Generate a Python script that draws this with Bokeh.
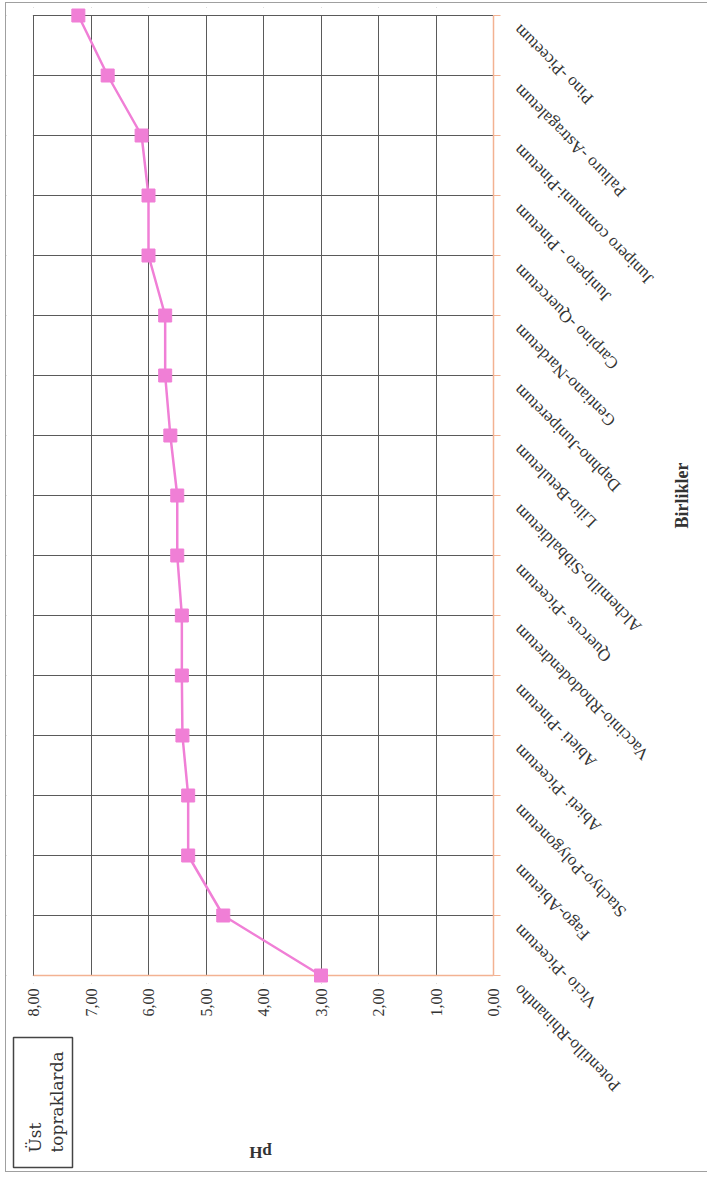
import math
from bokeh.plotting import figure
from bokeh.layouts import row, column
from bokeh.models import Range1d, FixedTicker, ColumnDataSource
from bokeh.core.properties import value
from bokeh.embed import file_html
from bokeh.resources import INLINE

# Plant associations (bottom -> top in the rotated page)
categories = [
    "Potentillo-Rhinantho", "Vicio -Piceetum", "Fago-Abietum", "Stachyo-Polygonetum",
    "Abieti -Piceetum", "Abieti -Pinetum", "Vaccinio-Rhododendretum", "Quercus -Piceetum",
    "Alchemillo-Sibbaldietum", "Lilio-Betuletum", "Daphno-Juniperetum", "Gentiano-Nardetum",
    "Carpino -Quercetum", "Junipero - Pinetum", "Junipero communi-Pinetum",
    "Paliuro -Astragaletum", "Pino -Piceetum",
]
ph_values = [3.00, 4.70, 5.31, 5.31, 5.41, 5.42, 5.42, 5.50, 5.50, 5.62, 5.71, 5.71,
             6.00, 6.00, 6.12, 6.71, 7.22]
ph_ticks = [0, 1, 2, 3, 4, 5, 6, 7, 8]
ph_tick_labels = ["0,00", "1,00", "2,00", "3,00", "4,00", "5,00", "6,00", "7,00", "8,00"]
series_name = "Üst\ntopraklarda"
x_title = "pH"
y_title = "Birlikler"

idx = list(range(len(categories)))
src = ColumnDataSource(dict(ph=ph_values, idx=idx, name=categories))

SERIF = "Liberation Serif"
PINK = "#f07fd6"
ORANGE = "#f3b292"
GRID = "#5a5a5a"
TXT = "#333333"

COMMON = dict(output_backend="svg", toolbar_location=None,
              background_fill_color="white", border_fill_color="white")

# ---------------- main chart ----------------
GRID_W, GRID_H = 460, 960        # pixel size of the gridded area
LEFT_PAD = 27                    # blank strip left of the 8,00 gridline
V_PAD = 8                        # room so the end markers are not cut
px_per_ph = GRID_W / (max(ph_ticks) - min(ph_ticks))
scale = GRID_H / (idx[-1] - idx[0])
P_FW = GRID_W + LEFT_PAD
P_FH = GRID_H + 2 * V_PAD
x_left = max(ph_ticks) + LEFT_PAD / px_per_ph
y_lo = idx[0] - V_PAD / scale
y_hi = idx[-1] + V_PAD / scale

p = figure(frame_width=P_FW, frame_height=P_FH,
           x_range=Range1d(x_left, min(ph_ticks)),
           y_range=Range1d(y_lo, y_hi),
           y_axis_location="right",
           min_border_left=0, min_border_top=12 - V_PAD, min_border_right=12,
           min_border_bottom=0, outline_line_color=None, **COMMON)

xa = p.xaxis[0]
xa.ticker = FixedTicker(ticks=ph_ticks)
xa.major_label_overrides = dict(zip(ph_ticks, ph_tick_labels))
xa.major_label_orientation = math.pi / 2
xa.major_label_text_font = SERIF
xa.major_label_text_font_size = "16px"
xa.major_label_text_color = TXT
xa.major_label_standoff = 13 - V_PAD
xa.major_tick_out = 0
xa.major_tick_in = 0
xa.minor_tick_out = 0
xa.minor_tick_in = 0
xa.axis_line_color = None

ya = p.yaxis[0]
ya.ticker = FixedTicker(ticks=[], minor_ticks=idx)
ya.bounds = (idx[0], idx[-1])
ya.major_tick_out = 0
ya.major_tick_in = 0
ya.minor_tick_out = 7
ya.minor_tick_in = 0
ya.minor_tick_line_color = ORANGE
ya.minor_tick_line_width = 1
ya.axis_line_color = ORANGE
ya.axis_line_width = 1.5

p.xgrid.ticker = FixedTicker(ticks=ph_ticks)
p.ygrid.ticker = FixedTicker(ticks=idx)
p.xgrid.grid_line_color = GRID
p.ygrid.grid_line_color = GRID

# blank margins around the gridded area (drawn above the grid, below the data)
eps_x = 0.6 / px_per_ph
eps_y = 0.6 / scale
p.quad(left=[x_left, x_left, x_left],
       right=[max(ph_ticks) + eps_x, min(ph_ticks), min(ph_ticks)],
       bottom=[y_lo, idx[-1] + eps_y, y_lo],
       top=[y_hi, y_hi, idx[0] - eps_y],
       fill_color="white", line_color=None)

# orange category-axis baseline at the first category
p.segment(x0=[min(ph_ticks)], y0=[idx[0]], x1=[max(ph_ticks)], y1=[idx[0]],
          line_color=ORANGE, line_width=1.5)

p.line("ph", "idx", source=src, line_color=PINK, line_width=2.5)
p.scatter("ph", "idx", source=src, marker="square", size=13,
          fill_color=PINK, line_color=PINK)

P_W = P_FW + 12
TOTAL_W, TOTAL_H = 701, 1166

# ---------------- category label panel (same vertical scale) ----------------
Q_TOP = 12 - V_PAD
Q_FW, Q_FH = TOTAL_W - P_W, TOTAL_H - Q_TOP
q = figure(frame_width=Q_FW, frame_height=Q_FH,
           x_range=Range1d(0, Q_FW),
           y_range=Range1d(y_hi - Q_FH / scale, y_hi),
           x_axis_location=None, y_axis_location=None,
           min_border_left=0, min_border_top=Q_TOP, min_border_right=0, min_border_bottom=0,
           outline_line_color=None, **COMMON)
q.grid.visible = False
q.text(x=0, y="idx", text="name", source=src, x_offset=11, y_offset=12,
       angle=3 * math.pi / 4, text_align="right", text_baseline="middle",
       text_font=value(SERIF), text_font_size="17px", text_color=TXT)
# y-axis title, centred on the category span
q.text(x=[176], y=[(idx[0] + idx[-1]) / 2], text=[y_title], angle=math.pi / 2,
       text_align="center", text_baseline="middle",
       text_font=value(SERIF), text_font_size="18px", text_font_style="bold",
       text_color=TXT)

# ---------------- bottom panel: legend box + x title ----------------
R_FW = P_FW
R_FH = TOTAL_H - 1014
r = figure(frame_width=R_FW, frame_height=R_FH,
           x_range=Range1d(0, R_FW), y_range=Range1d(0, R_FH),
           x_axis_location=None, y_axis_location=None,
           min_border_left=0, min_border_top=0, min_border_right=12, min_border_bottom=0,
           outline_line_color=None, **COMMON)
r.grid.visible = False
r.text(x=[254], y=[19], text=[x_title], angle=math.pi,
       text_align="center", text_baseline="middle",
       text_font=value(SERIF), text_font_size="17px", text_font_style="bold",
       text_color=TXT)

# legend frame and its two text lines (rotated, reading upwards)
r.rect(x=[36.5], y=[69], width=[59], height=[130], fill_color="white",
       line_color="#444444", line_width=1.5)
legend_lines = series_name.split("\n")
r.text(x=[28, 50.5], y=[19, 19], text=legend_lines, angle=math.pi / 2,
       text_align="left", text_baseline="middle",
       text_font=value("DejaVu Serif"), text_font_size="17px", text_color=TXT)

layout = row(column(p, r), q,
             styles={"border": "1px solid #a0a0a0", "border-right": "none",
                     "margin-left": "5px", "margin-top": "2px"})

open("out.html", "w").write(file_html(layout, INLINE))
